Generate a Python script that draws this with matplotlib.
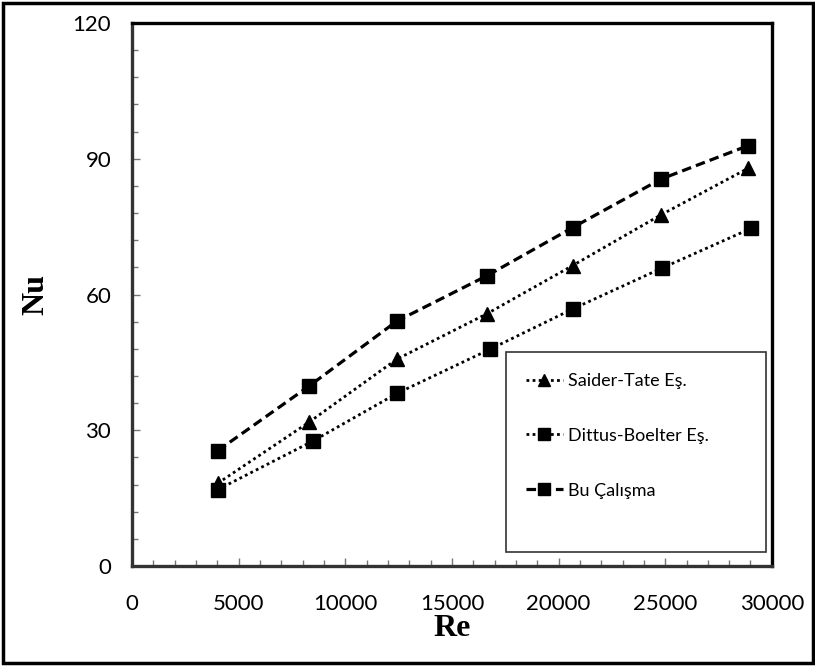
import matplotlib
matplotlib.use("Agg")
import matplotlib.pyplot as plt
from matplotlib.patches import Rectangle
from matplotlib.ticker import MultipleLocator

# okunan degerler
re_bu = [4020, 8310, 12410, 16660, 20660, 24800, 28890]
nu_bu = [25.5, 39.8, 54.1, 64.2, 74.8, 85.5, 92.9]

re_st = [4020, 8300, 12410, 16660, 20660, 24800, 28890]
nu_st = [18.3, 31.8, 45.7, 55.8, 66.4, 77.6, 87.9]

re_db = [4020, 8470, 12440, 16780, 20660, 24830, 29020]
nu_db = [16.9, 27.6, 38.2, 47.9, 56.8, 65.8, 74.6]

etiketler = ["Saider-Tate Eş.", "Dittus-Boelter Eş.", "Bu Çalışma"]

dar = ["Lato", "DejaVu Sans"]

fig = plt.figure(figsize=(8.15, 6.66), dpi=100)
ax = fig.add_axes([0.162, 0.150, 0.785, 0.8155])

ax.plot(re_st, nu_st, linestyle=(0, (1, 1.2)), color="black", lw=2,
        marker="^", markersize=10, label=etiketler[0])
ax.plot(re_db, nu_db, linestyle=(0, (1, 1.2)), color="black", lw=2,
        marker="s", markersize=10, label=etiketler[1])
ax.plot(re_bu, nu_bu, linestyle=(0, (3, 1.6)), color="black", lw=2.3,
        marker="s", markersize=10, label=etiketler[2])

ax.set_xlim(0, 30000)
ax.set_ylim(0, 120)
ax.xaxis.set_major_locator(MultipleLocator(5000))
ax.xaxis.set_minor_locator(MultipleLocator(1000))
ax.yaxis.set_major_locator(MultipleLocator(30))
ax.yaxis.set_minor_locator(MultipleLocator(6))

ax.tick_params(which="major", direction="in", length=6, width=1, color="#777777",
               labelsize=16, labelfontfamily="Lato")
ax.tick_params(which="minor", direction="in", length=4.5, width=1, color="#777777")
ax.tick_params(axis="x", which="major", pad=20)
ax.tick_params(axis="y", which="major", pad=15)

for s in ax.spines.values():
    s.set_linewidth(2.4)
ax.spines["left"].set_color("#333333")
ax.spines["bottom"].set_color("#333333")

ax.set_xlabel("Re", family="Liberation Serif", fontweight="bold", fontsize=23, labelpad=0)
ax.set_ylabel("Nu", family="Liberation Serif", fontweight="bold", fontsize=23, labelpad=16)

leg = ax.legend(loc="upper left", bbox_to_anchor=(0.584, 0.026, 0.407, 0.368),
                mode="expand", prop={"family": dar, "size": 13}, frameon=False,
                handlelength=2.0, handletextpad=0.3, labelspacing=2.15,
                borderpad=1.15, borderaxespad=0, markerscale=0.85)

# lejant kutusu
ax.add_patch(Rectangle((0.584, 0.026), 0.407, 0.368, transform=ax.transAxes,
                       fill=False, edgecolor="#333333", lw=1.2, zorder=1))

# dis cerceve
fig.patches.append(Rectangle((0.004, 0.004), 0.994, 0.992, transform=fig.transFigure,
                             fill=False, edgecolor="black", lw=2.5))

fig.savefig("out.png", dpi=100)
